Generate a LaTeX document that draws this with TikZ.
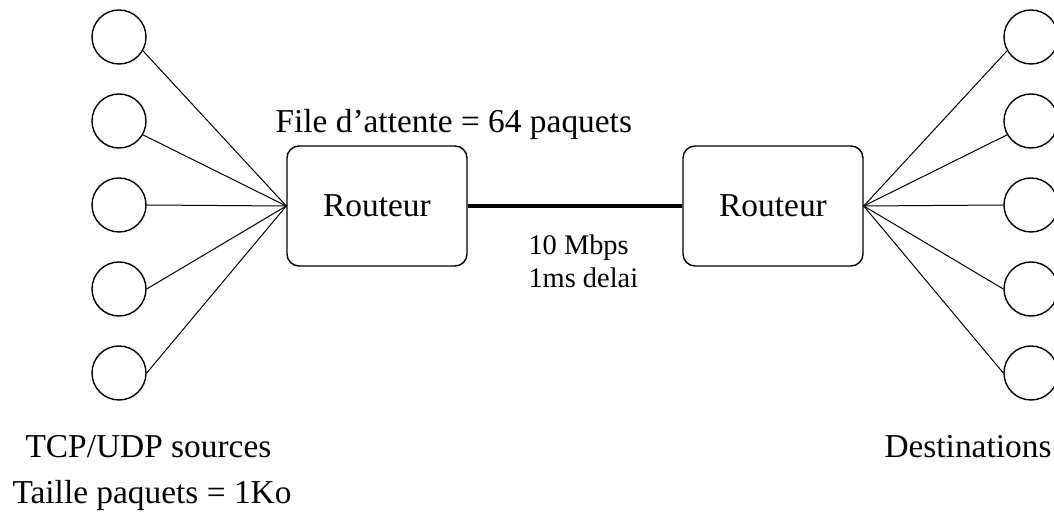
\documentclass[tikz,border=0pt]{standalone}
\usepackage{fontspec}
\setmainfont{Liberation Serif}
\tikzset{
    host/.style={draw, circle, minimum size=27pt, inner sep=0, line width=.7pt},
    router/.style={draw, rounded corners=6pt, minimum width=90pt,
        minimum height=60pt, line width=.7pt,
        font=\fontsize{16.7}{20}\selectfont},
    bigtext/.style={font=\fontsize{16.7}{20}\selectfont, inner sep=0,
        anchor=base west},
    smalltext/.style={font=\fontsize{14.2}{17}\selectfont, inner sep=0,
        anchor=base west},
}

\begin{document}
\begin{tikzpicture}[x=.5pt, y=-.5pt, line width=.5pt]
    \useasboundingbox (0, 0) rectangle (1054, 512);
    \node[router] (rl) at (377, 206) {Routeur};
    \node[router] (rr) at (773, 206) {Routeur};
    \draw[line width=2pt] (rl.east) -- (rr.west);
    \foreach \i in {1, ..., 5}{
        \node[host] (src\i) at (119, {37 + 84*(\i-1)}) {};
        \node[host] (dst\i) at (1031, {37 + 84*(\i-1)}) {};
    }
    \foreach \i in {1, 2}{
        \draw (src\i.-30) -- (rl.west);
        \draw (dst\i.210) -- (rr.east);
    }
    \foreach \i in {3, 4, 5}{
        \draw (src\i.east) -- (rl.west);
        \draw (dst\i.west) -- (rr.east);
    }
    \node[bigtext] (queue) at (275, 133) {File d’attente = 64 paquets};
    \node[smalltext] (rate) at (528, 255) {10 Mbps};
    \node[smalltext] (delay) at (528, 288) {1ms delai};
    \node[bigtext] (srclabel) at (25, 458) {TCP/UDP sources};
    \node[bigtext] (pktsize) at (12, 503) {Taille paquets = 1Ko};
    \node[bigtext] (dstlabel) at (884, 458) {Destinations};
\end{tikzpicture}
\end{document}
